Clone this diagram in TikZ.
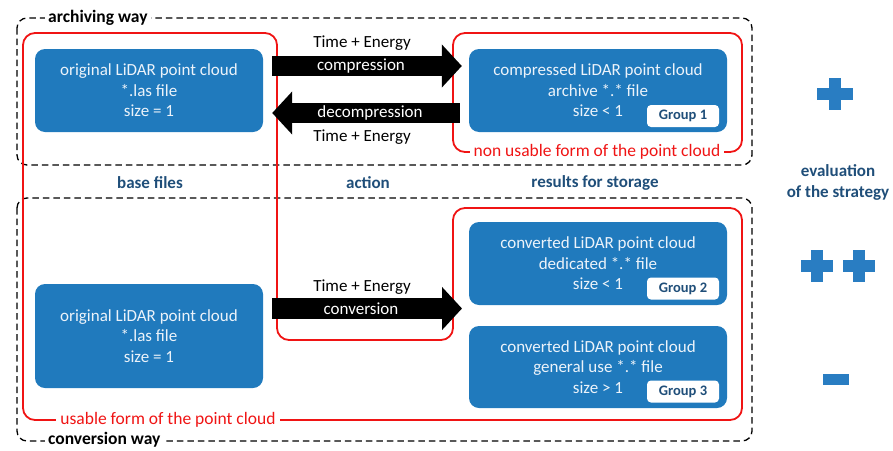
\documentclass[tikz,border=0pt]{standalone}
\usepackage{fontspec}
\setmainfont{Carlito}
\usetikzlibrary{arrows.meta}
\definecolor{boxblue}{RGB}{32,122,189}
\definecolor{boxtext}{RGB}{236,243,250}
\definecolor{labelblue}{RGB}{31,78,121}
\definecolor{plusblue}{RGB}{41,125,194}
\definecolor{redline}{RGB}{240,20,20}
\tikzset{
  bluebox/.style={rounded corners=10pt, fill=boxblue, text=boxtext, align=center,
    inner sep=0pt, font=\fontsize{17}{20.5}\selectfont},
  grouptag/.style={rounded corners=4pt, fill=white, text=labelblue, inner sep=0pt,
    minimum width=72pt, minimum height=22pt, font=\fontsize{14.5}{15}\selectfont\bfseries},
  waybox/.style={dash pattern=on 6.5pt off 4pt, line width=1.3pt, rounded corners=10pt},
  waylabel/.style={fill=white, inner xsep=3pt, inner ysep=1pt, anchor=west,
    font=\fontsize{17.5}{19}\selectfont\bfseries},
  redbox/.style={draw=redline, line width=1.8pt, rounded corners=12pt},
  redlabel/.style={fill=white, text=redline, inner xsep=4pt, inner ysep=1pt,
    font=\fontsize{17.5}{19}\selectfont},
  collabel/.style={text=labelblue, font=\fontsize{17}{19}\selectfont\bfseries},
  arrowtext/.style={font=\fontsize{17}{19}\selectfont},
  blockarrow/.style={line width=20.5pt, -{Triangle[length=20pt,width=42pt]}},
  signbar/.style={fill=plusblue}
}
\begin{document}
\begin{tikzpicture}[x=1pt,y=-1pt]
\useasboundingbox (0,0) rectangle (893,450);
% dashed way boxes
\draw[waybox] (17,18) rectangle (752,165);
\node[waylabel] (archlbl) at (45,18) {archiving way};
\draw[waybox] (17,198) rectangle (752,441);
\node[waylabel] (convlbl) at (45,440) {conversion way};
% red outlines
\draw[redbox] (23,33) -- (277,33) -- (277,340) -- (453,340) -- (453,208)
  -- (742,208) -- (742,420) -- (23,420) -- cycle;
\draw[redbox] (453,33) rectangle (742,152);
\node[redlabel] (usable) at (168,420) {usable form of the point cloud};
\node[redlabel] (nonusable) at (597,152) {non usable form of the point cloud};
% blue boxes
\node[bluebox, minimum width=228pt, minimum height=83pt] (b1) at (149,90.5)
  {original LiDAR point cloud\\*.las file\\size = 1};
\node[bluebox, minimum width=258pt, minimum height=83pt] (b2) at (598,90.5)
  {compressed LiDAR point cloud\\archive *.* file\\size {\textless} 1};
\node[bluebox, minimum width=228pt, minimum height=104pt] (b3) at (149,336)
  {original LiDAR point cloud\\*.las file\\size = 1};
\node[bluebox, minimum width=258pt, minimum height=83pt] (b4) at (598,263.5)
  {converted LiDAR point cloud\\dedicated *.* file\\size {\textless} 1};
\node[bluebox, minimum width=258pt, minimum height=82pt] (b5) at (598,367)
  {converted LiDAR point cloud\\general use *.* file\\size {\textgreater} 1};
\node[grouptag] (g1) at (683,116) {Group 1};
\node[grouptag] (g2) at (683,288.5) {Group 2};
\node[grouptag] (g3) at (683,391.5) {Group 3};
% block arrows
\draw[blockarrow] ([xshift=9pt,yshift=24.5pt]b1.east) -- ([xshift=-7pt,yshift=24.5pt]b2.west);
\draw[blockarrow] ([xshift=-9pt,yshift=-22.5pt]b2.west) -- ([xshift=9pt,yshift=-22.5pt]b1.east);
\coordinate (cvtip) at (462,308.5);
\draw[blockarrow] ([xshift=9pt,yshift=27.5pt]b3.east) -- (cvtip);
% arrow texts
\node[arrowtext] (te1) at (362,43) {Time + Energy};
\node[arrowtext, text=white] (comp) at (361,66) {compression};
\node[arrowtext, text=white] (decomp) at (370,113) {decompression};
\node[arrowtext] (te2) at (362,137) {Time + Energy};
\node[arrowtext] (te3) at (362,287) {Time + Energy};
\node[arrowtext, text=white] (conv) at (361,309) {conversion};
% column labels
\node[collabel] (base) at (150,183) {base files};
\node[collabel] (action) at (368,183) {action};
\node[collabel] (results) at (595,183) {results for storage};
\node[collabel, align=center, font=\fontsize{17}{21}\selectfont\bfseries] (eval) at (838,182.5) {evaluation\\of the strategy};
% evaluation signs
\fill[signbar] (817,88) rectangle (853,100);
\fill[signbar] (829,78) rectangle (841,110);
\fill[signbar] (801,260) rectangle (833,272);
\fill[signbar] (811,250) rectangle (823,282);
\fill[signbar] (843,260) rectangle (875,272);
\fill[signbar] (853,250) rectangle (865,282);
\fill[signbar] (823,374) rectangle (849,385);
\end{tikzpicture}
\end{document}
